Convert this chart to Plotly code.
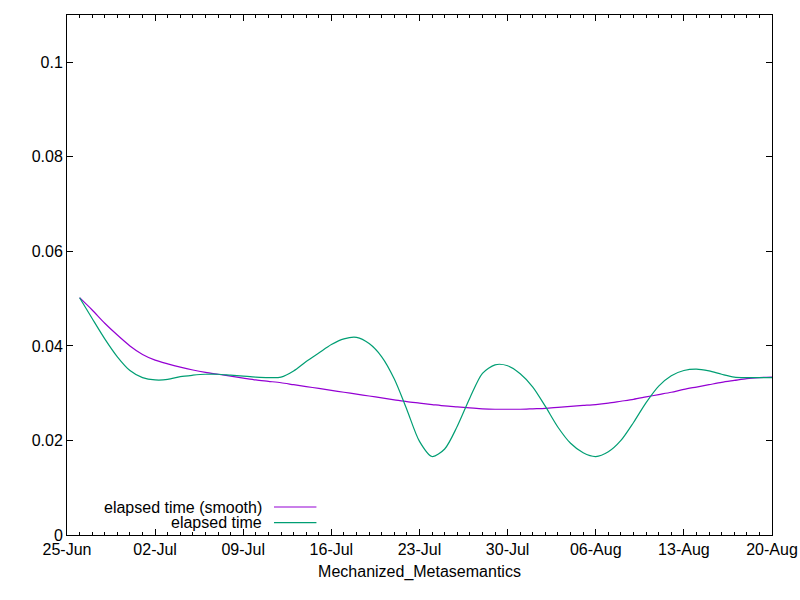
import pandas as pd
import plotly.graph_objects as go

dates = pd.date_range('2018-06-26', '2018-08-20', freq='D')

elapsed = [0.0502, 0.0458, 0.0415, 0.0377, 0.0348, 0.0333, 0.0328, 0.0329, 0.0335, 0.0338,
           0.0340, 0.0340, 0.0338, 0.0336, 0.0334, 0.0333, 0.0334, 0.0347, 0.0367, 0.0385,
           0.0403, 0.0415, 0.0418, 0.0405, 0.0377, 0.0330, 0.0265, 0.0198, 0.0166, 0.0182,
           0.0230, 0.0290, 0.0342, 0.0360, 0.0358, 0.0341, 0.0313, 0.0272, 0.0228, 0.0194,
           0.0174, 0.0166, 0.0176, 0.0200, 0.0238, 0.0280, 0.0315, 0.0337, 0.0348, 0.0351,
           0.0347, 0.0340, 0.0334, 0.0333, 0.0333, 0.0333]

elapsed_smooth = [0.0502, 0.0476, 0.0448, 0.0423, 0.0400, 0.0382, 0.0370, 0.0362, 0.0355, 0.0349,
                  0.0344, 0.0340, 0.0336, 0.0332, 0.0328, 0.0325, 0.0322, 0.0318, 0.0314, 0.0310,
                  0.0306, 0.0302, 0.0298, 0.0294, 0.0290, 0.0286, 0.0282, 0.0279, 0.0276, 0.0273,
                  0.0271, 0.0269, 0.0267, 0.0266, 0.0266, 0.0266, 0.0267, 0.0268, 0.0270, 0.0272,
                  0.0274, 0.0276, 0.0279, 0.0283, 0.0287, 0.0292, 0.0297, 0.0302, 0.0308, 0.0313,
                  0.0318, 0.0323, 0.0327, 0.0331, 0.0333, 0.0334]

y_ticks = [0, 0.02, 0.04, 0.06, 0.08, 0.1]
y_tick_labels = ['0', '0.02', '0.04', '0.06', '0.08', '0.1']

purple = '#9400d3'
green = '#009e73'
font = dict(family='Liberation Sans, Arial, sans-serif', size=16, color='black')

fig = go.Figure()
fig.add_trace(go.Scatter(x=dates, y=elapsed_smooth, mode='lines', name='elapsed time (smooth)',
                         line=dict(color=purple, width=1.2, shape='spline', smoothing=0.8)))
fig.add_trace(go.Scatter(x=dates, y=elapsed, mode='lines', name='elapsed time',
                         line=dict(color=green, width=1.2, shape='spline', smoothing=0.8)))

axis_common = dict(showgrid=False, zeroline=False, showline=True, linecolor='black',
                   linewidth=1, mirror='allticks', ticks='inside', ticklen=6,
                   tickcolor='black', tickfont=font, automargin=False)

fig.update_xaxes(range=['2018-06-25', '2018-08-20'], tickformat='%d-%b',
                 dtick=7 * 86400000, tick0='2018-06-25',
                 minor=dict(dtick=86400000, ticks='inside', ticklen=3, tickcolor='black'),
                 title=dict(text='Mechanized_Metasemantics', font=font, standoff=8),
                 **axis_common)
fig.update_yaxes(range=[0, 0.11], tickvals=y_ticks, ticktext=y_tick_labels, **axis_common)

# gnuplot style key: right aligned text, line sample to the right
key_rows = [('elapsed time (smooth)', purple, 0.0538), ('elapsed time', green, 0.0237)]
for text, color, yp in key_rows:
    fig.add_annotation(x=0.278, y=yp, xref='paper', yref='paper', text=text,
                       showarrow=False, xanchor='right', yanchor='middle', font=font,
                       borderpad=0)
    fig.add_shape(type='line', xref='paper', yref='paper', x0=0.2936, x1=0.3538,
                  y0=yp, y1=yp, line=dict(color=color, width=1.2))

fig.update_layout(width=800, height=600, plot_bgcolor='white', paper_bgcolor='white',
                  showlegend=False, margin=dict(l=67, r=28, t=15, b=65), font=font)

fig.write_html('out.html', config={'displayModeBar': False},
               post_script="document.body.style.margin='0';")
